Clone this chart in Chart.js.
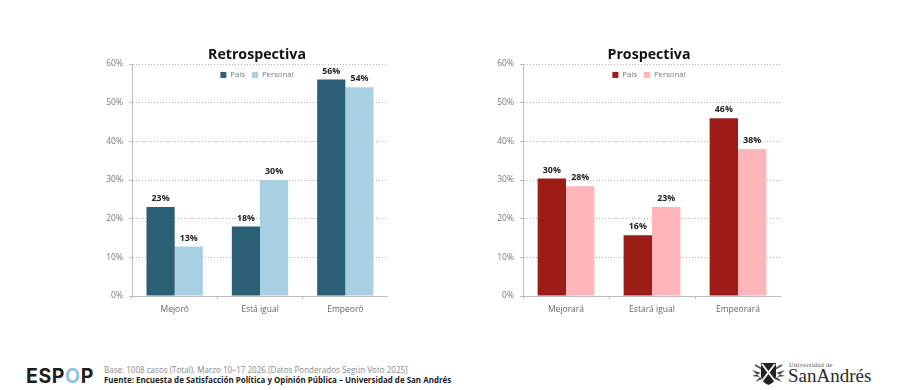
<!DOCTYPE html>
<html lang="es">
<head>
<meta charset="utf-8">
<title>Retrospectiva y Prospectiva</title>
<script src="https://cdn.jsdelivr.net/npm/chart.js@4/dist/chart.umd.min.js"></script>
<style>
    html, body { margin: 0; padding: 0; background: #fff; }
    body { width: 900px; height: 390px; position: relative; overflow: hidden; font-family: "Open Sans", sans-serif; }
    .chart-box { position: absolute; top: 45px; height: 280px; }
    #box-retro { left: 90px; width: 298px; }
    #box-pros { left: 481px; width: 300px; }
    .abs { position: absolute; white-space: nowrap; }
    #espop { left: 26px; top: 364px; font: 700 19.5px/24px Inter, sans-serif; letter-spacing: 0.6px; color: #1d1d1d; }
    #espop span { color: #8cc6de; }
    #base { left: 104px; top: 364px; font-size: 8.05px; line-height: 11px; color: #8a8a8a; }
    #fuente { left: 104px; top: 374px; font-size: 7.97px; line-height: 11px; font-weight: 700; color: #222; }
    #uni { left: 789px; top: 360px; font: 6.5px/9px "Liberation Serif", serif; color: #555; letter-spacing: 0.3px; }
    #sanandres { left: 788px; top: 365px; font: 19px/22px "Liberation Serif", serif; color: #2b2b2b; }
    #crest { position: absolute; left: 751px; top: 362px; }
</style>
</head>
<body>
<div class="chart-box" id="box-retro"><canvas id="chartRetro"></canvas></div>
<div class="chart-box" id="box-pros"><canvas id="chartPros"></canvas></div>

<div class="abs" id="espop">ESP<span>O</span>P</div>
<div class="abs" id="base">Base: 1008 casos (Total), Marzo 10–17 2026 [Datos Ponderados Según Voto 2025]</div>
<div class="abs" id="fuente">Fuente: Encuesta de Satisfacción Política y Opinión Pública – Universidad de San Andrés</div>

<svg id="crest" width="35" height="24" viewBox="0 0 35 24">
    <path d="M1 8 L10 11 L1 14 L9 15 L4 20 L11 17 Z M34 8 L25 11 L34 14 L26 15 L31 20 L24 17 Z" fill="#444"/>
    <path d="M4 3 L11 7 M31 3 L24 7" stroke="#555" stroke-width="2"/>
    <path d="M10 1 H25 V14 Q25 20 17.5 23 Q10 20 10 14 Z" fill="#222"/>
    <path d="M11 2 L24 19 M24 2 L11 19" stroke="#eee" stroke-width="2"/>
</svg>
<div class="abs" id="uni">Universidad de</div>
<div class="abs" id="sanandres">SanAndrés</div>

<script>
const retroLabels = ['Mejoró', 'Está igual', 'Empeoró'];
const retroPais = [23, 18, 56];
const retroPersonal = [12.8, 30, 54];

const prosLabels = ['Mejorará', 'Estará igual', 'Empeorará'];
const prosPais = [30.4, 15.7, 46];
const prosPersonal = [28.4, 23, 38];

const yTicks = [0, 10, 20, 30, 40, 50, 60];

// data labels on top of every bar
const barLabels = {
    id: 'barLabels',
    afterDatasetsDraw(chart) {
        const ctx = chart.ctx;
        ctx.save();
        ctx.font = '700 8.8px "Open Sans"';
        ctx.fillStyle = '#222';
        ctx.textAlign = 'center';
        ctx.textBaseline = 'bottom';
        chart.data.datasets.forEach((ds, i) => {
            chart.getDatasetMeta(i).data.forEach((bar, j) => {
                ctx.fillText(Math.round(ds.data[j]) + '%', bar.x, bar.y - 4);
            });
        });
        ctx.restore();
    }
};

// legend sits over the plot, so it must not take height from it
const floatLegend = {
    id: 'floatLegend',
    beforeInit(chart) {
        const fit = chart.legend.fit;
        chart.legend.fit = function () {
            fit.call(this);
            this.height = 0;
        };
    },
    afterLayout(chart) {
        // give the height back for drawing (legend clips to its box), nudge title and legend left
        chart.legend.height = 24;
        chart.legend.bottom = chart.legend.top + 24;
        [chart.legend, chart.titleBlock].forEach(box => {
            box.left -= 3;
            box.right -= 3;
        });
    }
};

function makeChart(canvasId, titleText, labels, pais, personal, darkColor, lightColor) {
    return new Chart(document.getElementById(canvasId), {
        type: 'bar',
        plugins: [barLabels, floatLegend],
        data: {
            labels: labels,
            datasets: [
                { label: 'País', data: pais, backgroundColor: darkColor },
                { label: 'Personal', data: personal, backgroundColor: lightColor }
            ]
        },
        options: {
            responsive: true,
            maintainAspectRatio: false,
            animation: false,
            datasets: { bar: { barPercentage: 1, categoryPercentage: 0.66 } },
            plugins: {
                tooltip: { enabled: false },
                title: {
                    display: true,
                    text: titleText,
                    fullSize: false,
                    color: '#111',
                    font: { family: '"Open Sans"', size: 14.2, weight: '700', lineHeight: 1.2 },
                    padding: { top: 1, bottom: 1 }
                },
                legend: {
                    position: 'top',
                    fullSize: false,
                    align: 'center',
                    labels: {
                        boxWidth: 6,
                        boxHeight: 6,
                        padding: 7,
                        color: '#7a7a7a',
                        font: { family: '"Open Sans"', size: 7.8 }
                    }
                }
            },
            scales: {
                x: {
                    afterFit: scale => { scale.height = 29; },
                    grid: { drawOnChartArea: false, color: '#bdbdbd', tickLength: 3 },
                    border: { color: '#bdbdbd' },
                    ticks: { color: '#666', padding: 5, font: { family: '"Open Sans"', size: 8.5 } }
                },
                y: {
                    min: 0,
                    max: 60,
                    afterFit: scale => { scale.width = 42; },
                    afterBuildTicks: scale => { scale.ticks = yTicks.map(v => ({ value: v })); },
                    grid: { color: '#b5b5b5', tickLength: 3, tickBorderDash: [], tickColor: '#bdbdbd' },
                    border: { color: '#bdbdbd', dash: [1, 2], display: true },
                    ticks: { color: '#777', padding: 6, font: { family: '"Open Sans"', size: 8.5 }, callback: v => v + '%' }
                }
            }
        }
    });
}

makeChart('chartRetro', 'Retrospectiva', retroLabels, retroPais, retroPersonal, '#2a5f75', '#a8d0e2');
makeChart('chartPros', 'Prospectiva', prosLabels, prosPais, prosPersonal, '#9c1c18', '#ffb5ba');
</script>
</body>
</html>
